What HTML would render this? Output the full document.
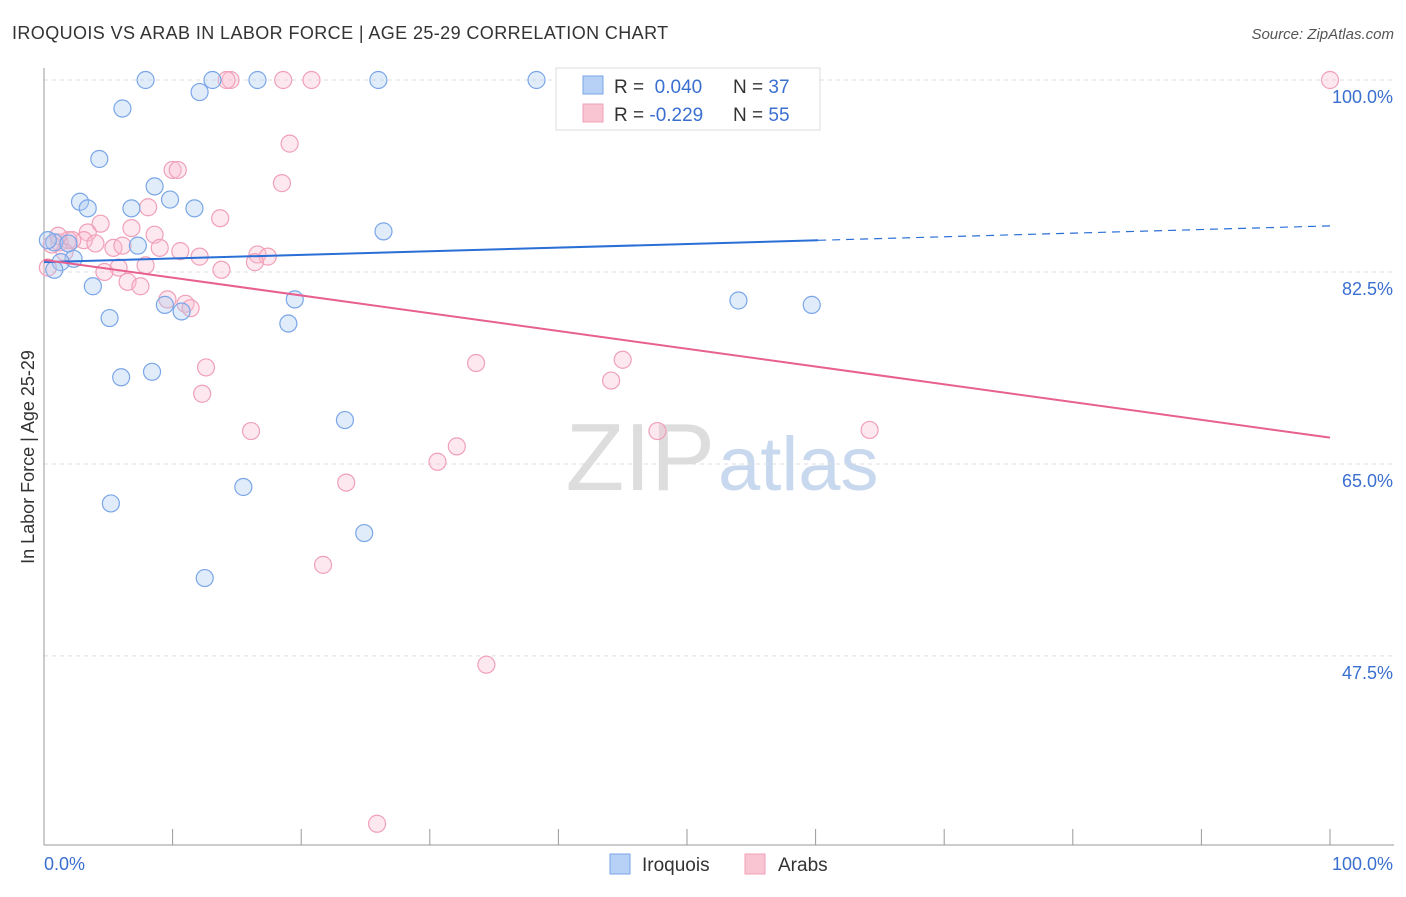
<!DOCTYPE html>
<html><head><meta charset="utf-8"><style>
body{margin:0;background:#fff;font-family:"Liberation Sans",sans-serif;}
svg text{font-family:"Liberation Sans",sans-serif;}
</style></head><body>
<svg id="chart" width="1406" height="892">
<text x="12" y="39" font-size="18" fill="#333" letter-spacing="0.4">IROQUOIS VS ARAB IN LABOR FORCE | AGE 25-29 CORRELATION CHART</text>
<text x="1394" y="39" font-size="15" fill="#555" text-anchor="end" font-style="italic">Source: ZipAtlas.com</text>
<text x="34" y="457" font-size="18" fill="#333" transform="rotate(-90 34 457)" text-anchor="middle">In Labor Force | Age 25-29</text>
<text x="715" y="490" font-size="96" fill="#ddd" text-anchor="end" font-family="Liberation Serif">ZIP</text>
<text x="718" y="490" font-size="76" fill="#c8d8ee">atlas</text>
<g id="grid"></g><g id="axes"></g><g id="pts"></g><g id="lines"></g>
<g>
<rect x="556" y="68" width="264" height="62" fill="#fff" stroke="#ddd"/>
<rect x="583" y="76" width="20" height="18" fill="#b7d0f5" stroke="#7aa6e8"/>
<rect x="583" y="104" width="20" height="18" fill="#f9c5d3" stroke="#f0a0b8"/>
<text x="614" y="93" font-size="19" fill="#333">R = <tspan fill="#3a6fd0">&#160;0.040</tspan><tspan x="733">N = </tspan><tspan fill="#3a6fd0">37</tspan></text>
<text x="614" y="121" font-size="19" fill="#333">R = <tspan fill="#3a6fd0">-0.229</tspan><tspan x="733">N = </tspan><tspan fill="#3a6fd0">55</tspan></text>
</g>
<g>
<rect x="610" y="854" width="20" height="20" fill="#b7d0f5" stroke="#7aa6e8"/>
<text x="642" y="871" font-size="19" fill="#333">Iroquois</text>
<rect x="745" y="854" width="20" height="20" fill="#f9c5d3" stroke="#f0a0b8"/>
<text x="778" y="871" font-size="19" fill="#333">Arabs</text>
</g>
</svg>
<script>
const yTicks=[100,82.5,65,47.5];
const yTickLabels=["100.0%","82.5%","65.0%","47.5%"];
const xTicks=[0,10,20,30,40,50,60,70,80,90,100];
const iroqX=[7.9,13.1,16.6,26.0,38.3,12.1,6.1,4.3,8.6,9.8,2.8,3.4,6.8,11.7,26.4,0.8,1.9,7.3,2.3,1.3,0.8,3.8,19.5,9.4,10.7,5.1,19.0,54.0,59.7,6.0,8.4,23.4,15.5,5.2,24.9,12.5,0.3];
const iroqY=[100,100,100,100,100,98.9,97.4,92.8,90.3,89.1,88.9,88.3,88.3,88.3,86.2,85.2,85.1,84.9,83.7,83.4,82.7,81.2,80.0,79.5,78.9,78.3,77.8,79.9,79.5,72.9,73.4,69.0,62.9,61.4,58.7,54.6,85.4];
const arabX=[14.5,14.2,18.6,20.8,100,19.1,10.0,10.4,18.5,8.1,13.7,4.4,6.8,3.4,8.6,1.9,3.1,1.2,4.0,5.4,6.1,9.0,10.6,12.1,16.6,17.4,16.4,7.9,5.8,4.7,13.8,6.5,7.5,9.6,11.0,11.4,12.6,12.3,33.6,45.0,44.1,16.1,32.1,30.6,47.7,64.2,23.5,21.7,34.4,25.9,0.3,0.6,2.2,1.6,1.1];
const arabY=[100,100,100,100,100,94.2,91.8,91.8,90.6,88.4,87.4,86.9,86.5,86.1,85.9,85.4,85.4,85.2,85.1,84.7,84.9,84.7,84.4,83.9,84.1,83.9,83.4,83.1,82.9,82.5,82.7,81.6,81.2,80.0,79.6,79.2,73.8,71.4,74.2,74.5,72.6,68.0,66.6,65.2,68.0,68.1,63.3,55.8,46.7,32.2,82.9,85.0,85.4,84.3,85.8];
const iroqTrend=[83.4,86.7];
const arabTrend=[83.6,67.4];
const NS="http://www.w3.org/2000/svg";
const sx=v=>44+v*12.86;
const sy=v=>80+(100-v)*10.97;
function mk(t,a,p){const e=document.createElementNS(NS,t);for(const k in a)e.setAttribute(k,a[k]);p.appendChild(e);return e;}
const grid=document.getElementById('grid'),axes=document.getElementById('axes'),pts=document.getElementById('pts'),lines=document.getElementById('lines');
yTicks.forEach((v,i)=>{
 const l=mk('line',{x1:44,x2:1394,y1:sy(v),y2:sy(v),stroke:'#ddd','stroke-dasharray':'4,4'},grid);
 
 
 const t=mk('text',{x:1393,y:sy(v)+23,'font-size':18,fill:'#3a6fd0','text-anchor':'end'},axes);
 t.textContent=yTickLabels[i];
 
 
});
mk('line',{x1:44,x2:1394,y1:845,y2:845,stroke:'#999'},axes);
mk('line',{x1:44,x2:44,y1:68,y2:845,stroke:'#999'},axes);
xTicks.forEach(v=>{
 const l=mk('line',{x1:sx(v),x2:sx(v),y1:829,y2:845,stroke:'#999'},axes);
 
 
});
const x0=mk('text',{x:44,y:870,'font-size':18,fill:'#3a6fd0'},axes);x0.textContent='0.0%';


const x1=mk('text',{x:1393,y:870,'font-size':18,fill:'#3a6fd0','text-anchor':'end'},axes);x1.textContent='100.0%';


function dots(X,Y,fill,stroke,name){X.forEach((x,i)=>{
 const c=mk('circle',{cx:sx(x),cy:sy(Y[i]),r:8.5,fill:fill,stroke:stroke,'stroke-width':1.2},pts);
 
 
});}
dots(arabX,arabY,'rgba(248,190,208,0.35)','#f0a0b8','arab-point');
dots(iroqX,iroqY,'rgba(170,200,242,0.35)','#7aa6e8','iroquois-point');
const by=x=>iroqTrend[0]+(iroqTrend[1]-iroqTrend[0])*x/100;
const b1=mk('line',{x1:sx(0),y1:sy(by(0)),x2:sx(60.2),y2:sy(by(60.2)),stroke:'#2a6fd6','stroke-width':2},lines);


const b2=mk('line',{x1:sx(60.2),y1:sy(by(60.2)),x2:sx(100),y2:sy(by(100)),stroke:'#2a6fd6','stroke-width':1.2,'stroke-dasharray':'8,6'},lines);


const p1=mk('line',{x1:sx(0),y1:sy(arabTrend[0]),x2:sx(100),y2:sy(arabTrend[1]),stroke:'#e8608f','stroke-width':2},lines);


</script>
</body></html>
